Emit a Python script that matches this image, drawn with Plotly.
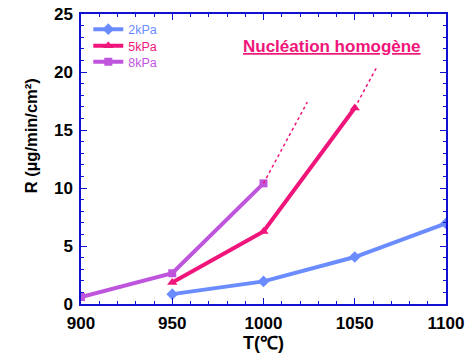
import plotly.graph_objects as go

T_2kPa = [950, 1000, 1050, 1100]
R_2kPa = [0.85, 1.95, 4.05, 6.95]
T_5kPa = [950, 1000, 1050]
R_5kPa = [1.85, 6.25, 16.9]
T_8kPa = [900, 950, 1000]
R_8kPa = [0.6, 2.65, 10.4]
# dotted extrapolations
T_ext8 = [1000, 1024]
R_ext8 = [10.4, 17.4]
T_ext5 = [1050, 1062]
R_ext5 = [16.9, 20.4]

C2, C5, C8 = "#6b8cff", "#f0157a", "#bf55dd"
AX = "#1010d0"
FONT = "Liberation Sans, Arial, sans-serif"

fig = go.Figure()
fig.add_trace(go.Scatter(x=T_2kPa, y=R_2kPa, mode="lines+markers",
                         name=f"<span style='color:{C2}'>2kPa</span>", legend="legend",
                         line=dict(color=C2, width=4),
                         marker=dict(symbol="diamond", size=9, color=C2)))
fig.add_trace(go.Scatter(x=T_5kPa, y=R_5kPa, mode="lines+markers",
                         name=f"<span style='color:{C5}'>5kPa</span>", legend="legend2",
                         line=dict(color=C5, width=4),
                         marker=dict(symbol="triangle-up", size=9, color=C5)))
fig.add_trace(go.Scatter(x=T_8kPa, y=R_8kPa, mode="lines+markers",
                         name=f"<span style='color:{C8}'>8kPa</span>", legend="legend3",
                         line=dict(color=C8, width=4),
                         marker=dict(symbol="square", size=8, color=C8)))
fig.add_trace(go.Scatter(x=T_ext8, y=R_ext8, mode="lines", showlegend=False,
                         line=dict(color=C5, width=1.5, dash="dot")))
fig.add_trace(go.Scatter(x=T_ext5, y=R_ext5, mode="lines", showlegend=False,
                         line=dict(color=C5, width=1.5, dash="dot")))

axis_common = dict(showline=True, linecolor=AX, linewidth=1.5, mirror="ticks",
                   ticks="inside", tickcolor=AX, ticklen=6, tickwidth=1.2,
                   showgrid=False, zeroline=False,
                   tickfont=dict(family=FONT, size=17, color="black", weight="bold"))

fig.update_xaxes(range=[900, 1100], tickvals=[900, 950, 1000, 1050, 1100],
                 minor=dict(dtick=10, ticks="inside", ticklen=3, tickcolor=AX),
                 ticklabelstandoff=3,
                 title=dict(text="<b>T(℃)</b>", font=dict(family=FONT, size=18, color="black"),
                            standoff=2),
                 **axis_common)
fig.update_yaxes(range=[0, 25], tickvals=[0, 5, 10, 15, 20, 25],
                 minor=dict(dtick=1, ticks="inside", ticklen=3, tickcolor=AX),
                 ticklabelstandoff=3,
                 **axis_common)

# y-axis title (placed like the original, slightly above centre)
fig.add_annotation(x=-0.167, y=0.579, xref="paper", yref="paper",
                   text="<b>R (µg/min/cm²)</b>", textangle=-90, showarrow=False,
                   font=dict(family=FONT, size=16.5, color="black"))

fig.add_annotation(x=1037.5, y=22.2, xref="x", yref="y",
                   text="<b><u>Nucléation homogène</u></b>", showarrow=False,
                   font=dict(family=FONT, size=17, color=C5))

leg = dict(x=0.02, xanchor="left", yanchor="middle", bgcolor="rgba(0,0,0,0)",
           borderwidth=0, font=dict(family=FONT, size=12.5), itemwidth=30)
fig.update_layout(width=468, height=360,
                  margin=dict(l=81, r=22, t=14, b=56, autoexpand=False),
                  plot_bgcolor="white", paper_bgcolor="white",
                  showlegend=True,
                  legend=dict(y=(304 - 29.5) / 290, **leg),
                  legend2=dict(y=(304 - 46) / 290, **leg),
                  legend3=dict(y=(304 - 62) / 290, **leg))

fig.write_html("out.html", config={"displayModeBar": False})
with open("out.html", encoding="utf-8") as f:
    html = f.read()
html = html.replace("<head>", "<head><style>html,body{margin:0;padding:0;overflow:hidden}</style>", 1)
with open("out.html", "w", encoding="utf-8") as f:
    f.write(html)
